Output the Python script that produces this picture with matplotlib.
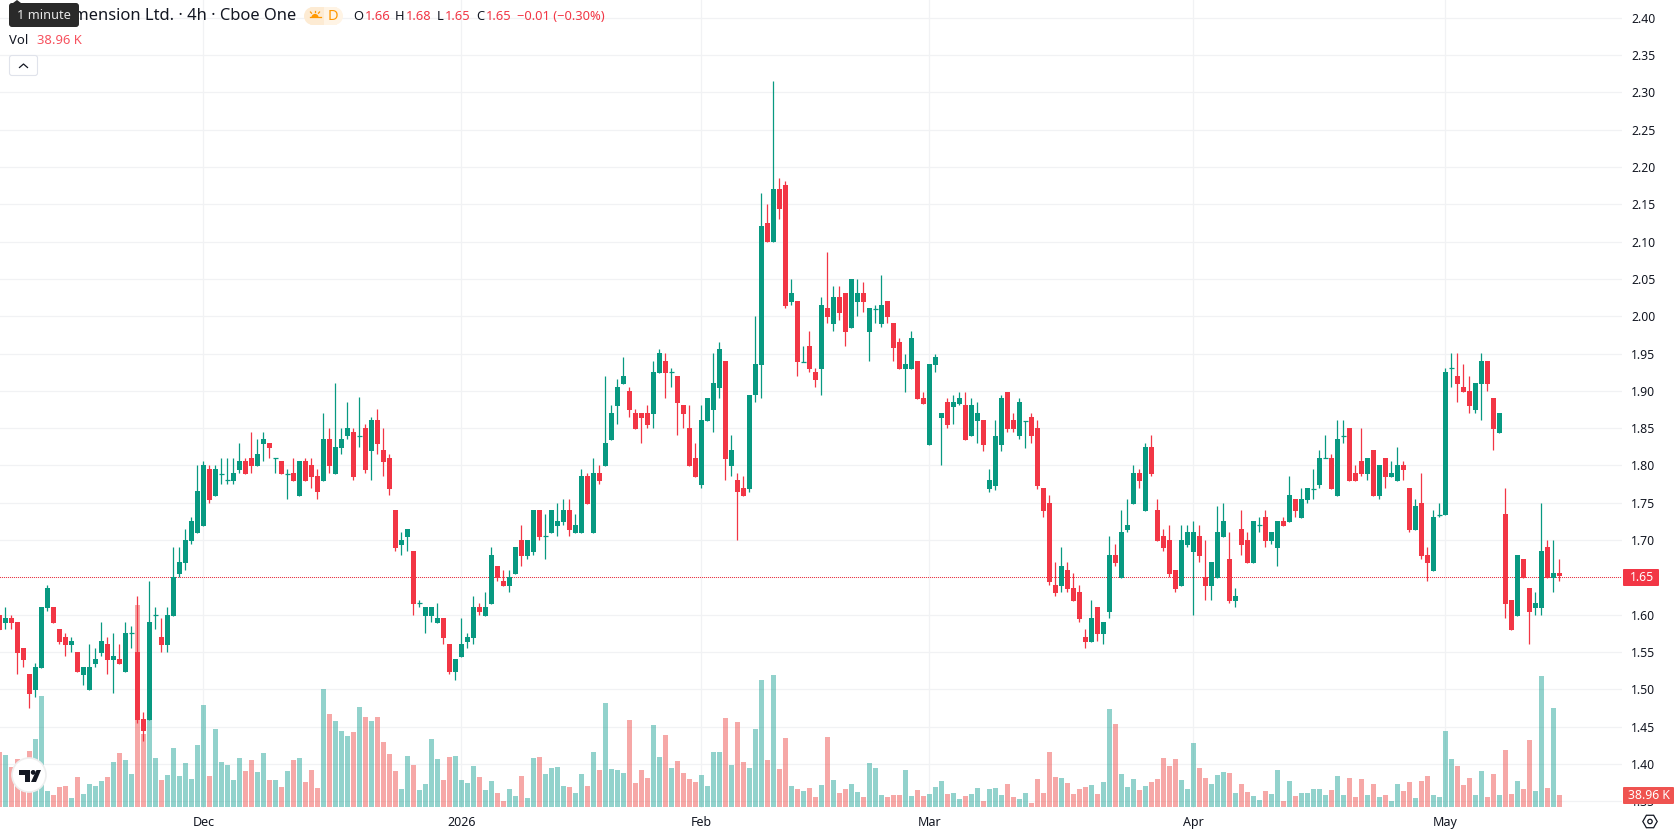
import numpy as np
import matplotlib
matplotlib.use("Agg")
import matplotlib.pyplot as plt
from matplotlib.patches import FancyBboxPatch, Circle, Rectangle, Polygon, RegularPolygon, Wedge

plt.rcParams['font.family'] = ['Noto Sans', 'DejaVu Sans']

GREEN = '#089981'
RED = '#F23645'
VOL_GREEN = '#26a69a'
VOL_RED = '#ef5350'
INK = '#131722'
GRID = '#f1f2f4'

WIDTH, HEIGHT = 1678, 835
AXIS_RIGHT, AXIS_BOTTOM = 1622, 808

# 4h candles, oldest first; bar 0 sits just right of the left edge
bar_index = np.arange(-1, 260)

opens = [
    1.599, 1.589, 1.595, 1.590, 1.555, 1.520, 1.499, 1.528, 1.609, 1.610,
    1.581, 1.570, 1.559, 1.550, 1.519, 1.499, 1.534, 1.549, 1.561, 1.539,
    1.540, 1.523, 1.575, 1.550, 1.460, 1.459, 1.599, 1.570, 1.559, 1.598,
    1.654, 1.669, 1.699, 1.709, 1.719, 1.795, 1.759, 1.789, 1.780, 1.779,
    1.794, 1.806, 1.810, 1.799, 1.829, 1.830, 1.810, 1.806, 1.789, 1.790,
    1.759, 1.806, 1.801, 1.786, 1.779, 1.836, 1.789, 1.823, 1.840, 1.845,
    1.840, 1.850, 1.819, 1.861, 1.821, 1.810, 1.740, 1.693, 1.704, 1.685,
    1.616, 1.598, 1.598, 1.589, 1.595, 1.561, 1.523, 1.543, 1.563, 1.569,
    1.610, 1.598, 1.614, 1.665, 1.645, 1.638, 1.654, 1.700, 1.679, 1.684,
    1.740, 1.705, 1.709, 1.719, 1.724, 1.740, 1.709, 1.709, 1.786, 1.709,
    1.790, 1.799, 1.834, 1.880, 1.909, 1.900, 1.870, 1.870, 1.870, 1.869,
    1.924, 1.940, 1.925, 1.920, 1.881, 1.850, 1.810, 1.774, 1.860, 1.874,
    1.904, 1.940, 1.799, 1.781, 1.770, 1.768, 1.894, 1.934, 2.125, 2.099,
    2.170, 2.176, 2.019, 2.020, 1.939, 1.960, 1.925, 1.929, 2.011, 1.989,
    2.026, 2.031, 1.984, 2.019, 2.031, 1.979, 2.010, 1.989, 2.020, 1.991,
    1.965, 1.929, 1.929, 1.940, 1.890, 1.828, 1.934, 1.863, 1.885, 1.879,
    1.883, 1.881, 1.839, 1.859, 1.861, 1.768, 1.773, 1.828, 1.899, 1.861,
    1.839, 1.860, 1.865, 1.850, 1.770, 1.750, 1.640, 1.638, 1.660, 1.636,
    1.630, 1.570, 1.563, 1.610, 1.574, 1.604, 1.680, 1.649, 1.713, 1.748,
    1.790, 1.739, 1.825, 1.740, 1.705, 1.700, 1.660, 1.638, 1.693, 1.684,
    1.705, 1.650, 1.638, 1.649, 1.704, 1.675, 1.618, 1.715, 1.700, 1.669,
    1.720, 1.731, 1.699, 1.689, 1.726, 1.724, 1.755, 1.730, 1.754, 1.769,
    1.774, 1.810, 1.810, 1.759, 1.840, 1.850, 1.790, 1.806, 1.789, 1.821,
    1.759, 1.810, 1.785, 1.779, 1.801, 1.770, 1.713, 1.750, 1.680, 1.658,
    1.734, 1.734, 1.930, 1.920, 1.905, 1.900, 1.874, 1.909, 1.940, 1.890,
    1.844, 1.735, 1.620, 1.598, 1.675, 1.636, 1.609, 1.609, 1.691, 1.649, 1.656,
]
highs = [
    1.599, 1.610, 1.599, 1.590, 1.555, 1.520, 1.535, 1.610, 1.640, 1.610,
    1.581, 1.575, 1.570, 1.550, 1.530, 1.561, 1.555, 1.590, 1.570, 1.575,
    1.561, 1.590, 1.585, 1.625, 1.469, 1.645, 1.610, 1.595, 1.610, 1.691,
    1.691, 1.715, 1.731, 1.801, 1.806, 1.801, 1.801, 1.810, 1.810, 1.810,
    1.830, 1.810, 1.845, 1.836, 1.845, 1.830, 1.810, 1.806, 1.795, 1.810,
    1.806, 1.810, 1.810, 1.795, 1.870, 1.850, 1.911, 1.850, 1.885, 1.850,
    1.892, 1.856, 1.865, 1.876, 1.850, 1.815, 1.740, 1.711, 1.715, 1.685,
    1.620, 1.610, 1.610, 1.616, 1.595, 1.561, 1.540, 1.595, 1.575, 1.625,
    1.616, 1.630, 1.691, 1.665, 1.660, 1.660, 1.691, 1.720, 1.700, 1.740,
    1.740, 1.735, 1.740, 1.750, 1.755, 1.755, 1.735, 1.795, 1.790, 1.810,
    1.801, 1.920, 1.881, 1.916, 1.945, 1.905, 1.876, 1.870, 1.881, 1.940,
    1.956, 1.951, 1.931, 1.920, 1.881, 1.881, 1.830, 1.881, 1.890, 1.951,
    1.966, 1.940, 1.841, 1.790, 1.786, 1.895, 2.000, 2.165, 2.150, 2.315,
    2.185, 2.181, 2.050, 2.020, 1.960, 1.980, 1.930, 2.026, 2.086, 2.040,
    2.040, 2.031, 2.050, 2.050, 2.046, 2.011, 2.015, 2.055, 2.020, 1.991,
    1.971, 1.950, 1.980, 1.940, 1.899, 1.936, 1.950, 1.870, 1.890, 1.895,
    1.899, 1.899, 1.890, 1.885, 1.861, 1.795, 1.861, 1.895, 1.899, 1.870,
    1.890, 1.860, 1.870, 1.861, 1.770, 1.760, 1.671, 1.691, 1.671, 1.656,
    1.640, 1.581, 1.620, 1.610, 1.590, 1.705, 1.695, 1.740, 1.755, 1.801,
    1.795, 1.830, 1.841, 1.755, 1.715, 1.720, 1.660, 1.720, 1.720, 1.726,
    1.720, 1.700, 1.671, 1.746, 1.750, 1.711, 1.636, 1.740, 1.711, 1.726,
    1.731, 1.740, 1.711, 1.726, 1.731, 1.786, 1.755, 1.770, 1.770, 1.795,
    1.821, 1.841, 1.815, 1.861, 1.861, 1.850, 1.801, 1.850, 1.810, 1.821,
    1.801, 1.810, 1.806, 1.825, 1.806, 1.770, 1.755, 1.790, 1.691, 1.740,
    1.750, 1.931, 1.951, 1.951, 1.936, 1.920, 1.911, 1.951, 1.940, 1.890,
    1.870, 1.770, 1.620, 1.680, 1.675, 1.636, 1.630, 1.750, 1.700, 1.700, 1.675,
]
lows = [
    1.579, 1.581, 1.581, 1.520, 1.530, 1.475, 1.490, 1.528, 1.605, 1.589,
    1.561, 1.545, 1.550, 1.523, 1.506, 1.499, 1.530, 1.545, 1.520, 1.495,
    1.534, 1.523, 1.555, 1.455, 1.431, 1.459, 1.581, 1.550, 1.550, 1.598,
    1.650, 1.660, 1.695, 1.709, 1.719, 1.750, 1.759, 1.775, 1.775, 1.775,
    1.790, 1.789, 1.790, 1.799, 1.806, 1.810, 1.790, 1.789, 1.755, 1.779,
    1.759, 1.779, 1.770, 1.755, 1.779, 1.790, 1.789, 1.815, 1.836, 1.781,
    1.825, 1.790, 1.781, 1.815, 1.786, 1.760, 1.685, 1.680, 1.685, 1.599,
    1.610, 1.575, 1.590, 1.589, 1.561, 1.520, 1.512, 1.543, 1.555, 1.561,
    1.599, 1.598, 1.614, 1.645, 1.638, 1.630, 1.654, 1.665, 1.675, 1.680,
    1.700, 1.675, 1.709, 1.705, 1.720, 1.705, 1.709, 1.709, 1.748, 1.709,
    1.775, 1.799, 1.834, 1.856, 1.909, 1.865, 1.849, 1.830, 1.850, 1.850,
    1.924, 1.890, 1.905, 1.841, 1.850, 1.799, 1.785, 1.770, 1.860, 1.845,
    1.890, 1.781, 1.786, 1.700, 1.759, 1.765, 1.885, 1.890, 2.099, 2.099,
    2.130, 2.011, 2.015, 1.920, 1.939, 1.925, 1.905, 1.895, 1.991, 1.980,
    1.995, 1.960, 1.984, 2.000, 2.005, 1.940, 1.991, 1.985, 1.991, 1.940,
    1.929, 1.899, 1.929, 1.889, 1.883, 1.828, 1.925, 1.800, 1.850, 1.855,
    1.881, 1.834, 1.839, 1.830, 1.820, 1.765, 1.767, 1.820, 1.845, 1.845,
    1.835, 1.824, 1.830, 1.769, 1.731, 1.640, 1.625, 1.630, 1.630, 1.618,
    1.590, 1.555, 1.563, 1.565, 1.561, 1.595, 1.665, 1.649, 1.711, 1.748,
    1.770, 1.739, 1.786, 1.699, 1.685, 1.650, 1.630, 1.638, 1.691, 1.599,
    1.671, 1.620, 1.620, 1.649, 1.704, 1.616, 1.610, 1.680, 1.669, 1.669,
    1.711, 1.691, 1.695, 1.665, 1.719, 1.724, 1.731, 1.730, 1.750, 1.755,
    1.770, 1.810, 1.768, 1.759, 1.830, 1.779, 1.779, 1.786, 1.781, 1.759,
    1.755, 1.770, 1.785, 1.779, 1.781, 1.711, 1.713, 1.675, 1.645, 1.658,
    1.731, 1.734, 1.905, 1.885, 1.899, 1.870, 1.870, 1.861, 1.900, 1.821,
    1.844, 1.595, 1.579, 1.598, 1.649, 1.561, 1.599, 1.599, 1.649, 1.630, 1.645,
]
closes = [
    1.579, 1.595, 1.589, 1.549, 1.539, 1.494, 1.530, 1.610, 1.636, 1.589,
    1.563, 1.559, 1.565, 1.523, 1.530, 1.530, 1.540, 1.565, 1.539, 1.545,
    1.534, 1.575, 1.575, 1.459, 1.444, 1.590, 1.599, 1.559, 1.599, 1.650,
    1.671, 1.700, 1.726, 1.766, 1.801, 1.754, 1.795, 1.789, 1.780, 1.790,
    1.806, 1.789, 1.799, 1.815, 1.836, 1.823, 1.810, 1.789, 1.789, 1.779,
    1.806, 1.779, 1.785, 1.764, 1.836, 1.799, 1.825, 1.836, 1.850, 1.785,
    1.840, 1.794, 1.861, 1.829, 1.805, 1.768, 1.689, 1.700, 1.715, 1.614,
    1.616, 1.610, 1.610, 1.595, 1.569, 1.523, 1.540, 1.561, 1.570, 1.610,
    1.604, 1.610, 1.680, 1.649, 1.638, 1.650, 1.691, 1.679, 1.700, 1.740,
    1.704, 1.705, 1.740, 1.726, 1.740, 1.713, 1.720, 1.786, 1.748, 1.790,
    1.779, 1.830, 1.870, 1.905, 1.920, 1.874, 1.849, 1.864, 1.854, 1.925,
    1.951, 1.924, 1.925, 1.884, 1.869, 1.799, 1.785, 1.861, 1.890, 1.911,
    1.956, 1.809, 1.821, 1.764, 1.759, 1.895, 1.936, 2.121, 2.099, 2.170,
    2.144, 2.013, 2.031, 1.938, 1.939, 1.929, 1.914, 2.015, 1.999, 2.026,
    2.004, 1.979, 2.050, 2.031, 2.019, 2.011, 2.010, 2.015, 1.999, 1.958,
    1.929, 1.936, 1.971, 1.889, 1.883, 1.936, 1.945, 1.870, 1.854, 1.885,
    1.890, 1.834, 1.881, 1.870, 1.828, 1.780, 1.840, 1.890, 1.849, 1.849,
    1.885, 1.860, 1.839, 1.773, 1.739, 1.644, 1.629, 1.665, 1.634, 1.618,
    1.594, 1.563, 1.595, 1.574, 1.590, 1.680, 1.669, 1.711, 1.720, 1.790,
    1.779, 1.825, 1.789, 1.699, 1.689, 1.654, 1.634, 1.700, 1.711, 1.711,
    1.679, 1.638, 1.671, 1.711, 1.726, 1.618, 1.625, 1.693, 1.669, 1.726,
    1.720, 1.699, 1.711, 1.726, 1.719, 1.760, 1.739, 1.755, 1.770, 1.769,
    1.810, 1.810, 1.768, 1.836, 1.840, 1.779, 1.779, 1.789, 1.810, 1.759,
    1.801, 1.785, 1.790, 1.801, 1.794, 1.713, 1.746, 1.679, 1.669, 1.731,
    1.734, 1.925, 1.930, 1.909, 1.899, 1.880, 1.911, 1.940, 1.909, 1.849,
    1.870, 1.614, 1.579, 1.680, 1.649, 1.604, 1.616, 1.685, 1.649, 1.656, 1.652,
]
# volume in thousands of shares
volumes_k = [
    178.5, 168.8, 129.8, 155.8, 129.8, 181.8, 220.7, 360.3, 51.9, 39.0,
    64.9, 68.2, 29.2, 97.4, 42.2, 74.7, 68.2, 84.4, 97.4, 146.1,
    175.3, 152.6, 107.1, 655.7, 237.0, 293.2, 159.1, 87.6, 103.9, 191.5,
    100.6, 142.8, 90.9, 201.3, 331.1, 100.6, 253.2, 146.1, 136.3, 87.6,
    159.1, 116.9, 152.6, 113.6, 175.3, 87.6, 87.6, 64.9, 116.9, 152.6,
    159.1, 81.2, 120.1, 61.7, 383.0, 301.9, 279.2, 246.7, 230.5, 243.5,
    324.6, 292.1, 279.2, 292.1, 211.0, 172.0, 116.9, 58.4, 165.5, 136.3,
    55.2, 74.7, 220.7, 155.8, 87.6, 162.3, 165.5, 87.6, 77.9, 133.1,
    97.4, 55.2, 84.4, 45.4, 19.5, 58.4, 35.7, 100.6, 29.2, 159.1,
    162.3, 107.1, 126.6, 129.8, 68.2, 64.9, 45.4, 107.1, 68.2, 178.5,
    120.1, 337.6, 123.3, 120.1, 110.4, 282.4, 77.9, 120.1, 94.1, 266.2,
    162.3, 233.7, 126.6, 149.3, 110.4, 90.9, 81.2, 103.9, 68.2, 178.5,
    178.5, 288.9, 136.3, 275.9, 146.1, 126.6, 253.2, 412.2, 152.6, 428.5,
    123.3, 224.0, 68.2, 58.4, 51.9, 61.7, 32.5, 71.4, 227.2, 87.6,
    45.4, 58.4, 74.7, 48.7, 32.5, 142.8, 126.6, 39.0, 32.5, 39.0,
    39.0, 120.1, 35.7, 55.2, 35.7, 42.2, 64.9, 84.4, 42.2, 45.4,
    26.0, 35.7, 42.2, 61.7, 19.5, 58.4, 61.7, 39.0, 74.7, 32.5,
    26.0, 45.4, 13.0, 90.9, 45.4, 178.5, 97.4, 94.1, 77.9, 42.2,
    58.4, 64.9, 71.4, 42.2, 81.2, 318.1, 269.4, 107.1, 64.9, 90.9,
    55.2, 68.2, 81.2, 90.9, 159.1, 133.1, 155.8, 87.6, 58.4, 207.7,
    126.6, 94.1, 74.7, 103.9, 113.6, 110.4, 45.4, 74.7, 48.7, 35.7,
    22.7, 51.9, 42.2, 120.1, 19.5, 84.4, 35.7, 45.4, 45.4, 58.4,
    58.4, 39.0, 55.2, 100.6, 39.0, 94.1, 32.5, 90.9, 39.0, 74.7,
    32.5, 39.0, 19.5, 74.7, 51.9, 81.2, 29.2, 84.4, 100.6, 39.0,
    32.5, 246.7, 155.8, 133.1, 71.4, 94.1, 39.0, 116.9, 32.5, 107.1,
    39.0, 185.0, 42.2, 84.4, 58.4, 217.5, 51.9, 425.2, 61.7, 321.4, 38.96,
]

price_ticks = np.arange(135, 241, 5) / 100
month_bars = [33, 76, 116, 154, 198, 240]
month_labels = ['Dec', '2026', 'Feb', 'Mar', 'Apr', 'May']
last_price = 1.65

opens = np.array(opens)
highs = np.array(highs)
lows = np.array(lows)
closes = np.array(closes)
rising = closes >= opens
candle_colors = np.where(rising, GREEN, RED)
volume_colors = np.where(rising, VOL_GREEN, VOL_RED)

fig = plt.figure(figsize=(WIDTH / 100, HEIGHT / 100), dpi=100)
plot_rect = [0, 1 - AXIS_BOTTOM / HEIGHT, AXIS_RIGHT / WIDTH, AXIS_BOTTOM / HEIGHT]
x_range = (-0.888, 269.45)
price_range = (1.3410, 2.4237)
volume_range = (-3.2, 2620)

# three stacked axes so the volume bars stay above the grid and below the candles
grid_ax = fig.add_axes(plot_rect, zorder=1)
vol_ax = fig.add_axes(plot_rect, zorder=2)
candle_ax = fig.add_axes(plot_rect, zorder=3)

grid_ax.set_xlim(x_range)
grid_ax.set_ylim(price_range)
grid_ax.set_xticks(month_bars, month_labels, fontsize=9, color=INK)
grid_ax.get_xticklabels()[1].set_fontweight('bold')
grid_ax.yaxis.tick_right()
grid_ax.set_yticks(price_ticks)
grid_ax.set_yticklabels(['' if abs(p - last_price) < 1e-6 else f'{p:.2f}' for p in price_ticks],
                        fontsize=8.8, color=INK)
grid_ax.tick_params(axis='both', length=0)
grid_ax.tick_params(axis='y', pad=6.4)
grid_ax.tick_params(axis='x', pad=5.5)
grid_ax.grid(True, color=GRID, linewidth=0.9)
grid_ax.set_axisbelow(True)
for spine in grid_ax.spines.values():
    spine.set_visible(False)

for ax in (vol_ax, candle_ax):
    ax.set_xlim(x_range)
    ax.patch.set_visible(False)
    ax.axis('off')

# volume
vol_ax.set_ylim(volume_range)
vol_ax.bar(bar_index, volumes_k, width=5 / 6, color=volume_colors, alpha=0.5, linewidth=0)

# candles
candle_ax.set_ylim(price_range)
candle_ax.axhline(last_price, color=RED, linewidth=0.72, linestyle=(0, (1, 2)),
                  antialiased=False, zorder=1)
candle_ax.vlines(bar_index, lows, highs, colors=candle_colors, linewidth=0.9, zorder=2)
candle_ax.bar(bar_index, np.abs(closes - opens), bottom=np.minimum(opens, closes),
              width=5 / 6, color=candle_colors, linewidth=0, zorder=3)
flat = opens == closes
candle_ax.hlines(opens[flat], bar_index[flat] - 2.5 / 6, bar_index[flat] + 2.5 / 6,
                 colors=candle_colors[flat], linewidth=0.9, zorder=3)

# legend header, badges and buttons, placed in pixels
overlay = fig.add_axes([0, 0, 1, 1], zorder=5)
overlay.set_xlim(0, WIDTH)
overlay.set_ylim(HEIGHT, 0)
overlay.axis('off')

overlay.text(296, 16.5, 'Dimension Ltd. · 4h · Cboe One', fontsize=11.9, color=INK, ha='right', va='center')

# session pill
overlay.add_patch(FancyBboxPatch((310, 7), 27, 18, boxstyle='round,pad=0,rounding_size=0', fc='#fff4e5', ec='none'))
overlay.add_patch(Circle((313, 16), 9, fc='#fdebd3', ec='none'))
overlay.add_patch(Circle((334, 16), 9, fc='#fff4e5', ec='none'))
overlay.add_patch(Rectangle((313, 7), 11, 18, fc='#fdebd3', ec='none'))
overlay.add_patch(Wedge((315, 17.5), 3.6, 180, 360, fc='#ff9800', ec='none'))
overlay.plot([309.5, 320.5], [17.2, 17.2], color='#ff9800', lw=0.9)
overlay.plot([315, 315], [10.5, 12], color='#ff9800', lw=0.9)
overlay.plot([310.5, 311.5], [12, 13.2], color='#ff9800', lw=0.9)
overlay.plot([319.5, 318.5], [12, 13.2], color='#ff9800', lw=0.9)
overlay.text(333, 16.5, 'D', fontsize=10.5, color='#ff9800', fontweight='bold', ha='center', va='center')

# OHLC read-out
for x, s, c in [(353, 'O', INK), (365, '1.66', RED), (395, 'H', INK), (406, '1.68', RED),
                (437, 'L', INK), (445, '1.65', RED), (476, 'C', INK), (486, '1.65', RED),
                (517, '−0.01 (−0.30%)', RED)]:
    overlay.text(x, 16.5, s, fontsize=9.3, color=c, ha='left', va='center')

overlay.text(9, 40.5, 'Vol', fontsize=9.4, color=INK, ha='left', va='center')
overlay.text(37, 40.5, '38.96 K', fontsize=9.4, color='#f7525f', ha='left', va='center')

# collapse button
overlay.add_patch(FancyBboxPatch((9.5, 55.5), 28, 20, boxstyle='round,pad=0,rounding_size=2.5',
                                 fc='white', ec='#e0e3eb', lw=0.8))
overlay.plot([19.5, 23.5, 27.5], [67.5, 64, 67.5], color=INK, lw=0.9)

# tooltip sitting over the start of the title
overlay.add_patch(Polygon([(13, 3), (17, 0), (21, 3)], fc='#2a2a2a', ec='none', zorder=6))
overlay.add_patch(FancyBboxPatch((9, 3), 70, 24, boxstyle='round,pad=0,rounding_size=3',
                                 fc='#2a2a2a', ec='none', zorder=6))
overlay.text(44, 15.5, '1 minute', fontsize=9.2, color='#e8e8e8', ha='center', va='center', zorder=7)

# price and volume badges on the axis
overlay.add_patch(FancyBboxPatch((1623, 569), 36, 17, boxstyle='round,pad=0,rounding_size=1', fc=RED, ec='none'))
overlay.text(1642, 577.5, f'{last_price:.2f}', fontsize=8.8, color='white', ha='center', va='center')
overlay.add_patch(FancyBboxPatch((1623, 787), 51, 17, boxstyle='round,pad=0,rounding_size=1', fc='#ef5350', ec='none'))
overlay.text(1648.5, 795.5, '38.96 K', fontsize=8.8, color='white', ha='center', va='center')

# settings icon
overlay.add_patch(RegularPolygon((1650, 821.5), 6, radius=7.2, orientation=np.pi / 6, fc='none', ec=INK, lw=0.9))
overlay.add_patch(Circle((1650, 821.5), 2.2, fc='none', ec=INK, lw=0.9))

# logo badge
overlay.add_patch(Circle((29, 775), 17, fc='white', ec='#eeeeee', lw=1.2))
overlay.add_patch(Polygon([(19, 770), (30, 770), (30, 782), (25, 782), (25, 775), (19, 775)], fc=INK, ec='none'))
overlay.add_patch(Circle((33.2, 772.4), 2.4, fc=INK, ec='none'))
overlay.add_patch(Polygon([(36.5, 770), (41, 770), (36, 782), (31, 782)], fc=INK, ec='none'))

fig.savefig('out.png', dpi=100, facecolor='white')
